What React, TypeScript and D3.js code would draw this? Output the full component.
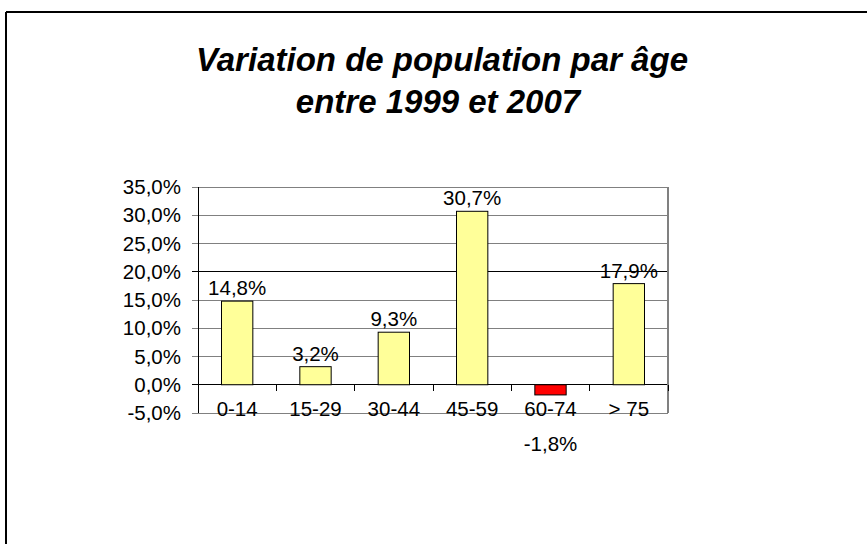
import React from "react";
import * as d3 from "d3";

const title1 = "Variation de population par âge";
const title2 = "entre 1999 et 2007";
const categories = ["0-14", "15-29", "30-44", "45-59", "60-74", "> 75"];
const values = [14.8, 3.2, 9.3, 30.7, -1.8, 17.9];
const valueLabels = ["14,8%", "3,2%", "9,3%", "30,7%", "-1,8%", "17,9%"];
const yTicks = [-5, 0, 5, 10, 15, 20, 25, 30, 35];

const W = 867;
const H = 544;
const FONT = "'Liberation Sans', Arial, sans-serif";

export default function App() {
  const left = 198, right = 668, top = 187, bottom = 413;
  const x = d3.scaleBand<string>().domain(categories).range([left, right]).paddingInner(0.6).paddingOuter(0.3);
  const y = d3.scaleLinear().domain([-5, 35]).range([bottom, top]);
  const step = x.step();
  const fmt = (v: number) => v.toFixed(1).replace(".", ",") + "%";

  return (
    <svg width={W} height={H} style={{ position: "absolute", left: 0, top: 0, background: "#fff" }} fontFamily={FONT}>
      {/* outer frame */}
      <line x1={6} y1={12} x2={W} y2={12} stroke="#000" strokeWidth={2} />
      <line x1={6} y1={12} x2={6} y2={H} stroke="#000" strokeWidth={2} />

      {/* title */}
      <text x={442} y={71} textAnchor="middle" fontSize={33} fontWeight="bold" fontStyle="italic">{title1}</text>
      <text x={438} y={113} textAnchor="middle" fontSize={33} fontWeight="bold" fontStyle="italic">{title2}</text>

      {/* gridlines */}
      {yTicks.map((t) => (
        <line key={"g" + t} x1={left - 6} x2={right} y1={y(t)} y2={y(t)}
          stroke={t === 0 || t === 20 ? "#000" : "#808080"} strokeWidth={1} shapeRendering="crispEdges" />
      ))}
      {/* plot right border */}
      <line x1={right} x2={right} y1={top} y2={bottom} stroke="#808080" strokeWidth={2} shapeRendering="crispEdges" />
      {/* y axis */}
      <line x1={left} x2={left} y1={top} y2={bottom} stroke="#000" strokeWidth={1} shapeRendering="crispEdges" />
      {/* x-axis ticks at zero */}
      {d3.range(categories.length + 1).map((i) => (
        <line key={"xt" + i} x1={left + i * step} x2={left + i * step} y1={y(0)} y2={y(0) + 6}
          stroke="#000" strokeWidth={1} shapeRendering="crispEdges" />
      ))}

      {/* y tick labels */}
      {yTicks.map((t) => (
        <text key={"yl" + t} x={181} y={y(t)} dy="0.35em" textAnchor="end" fontSize={20.5}>{fmt(t)}</text>
      ))}

      {/* bars */}
      {categories.map((c, i) => {
        const v = values[i];
        const y0 = y(Math.max(0, v));
        const y1 = y(Math.min(0, v));
        return (
          <rect key={"b" + c} x={x(c)} y={y0} width={x.bandwidth()} height={y1 - y0}
            fill={v < 0 ? "#FF0000" : "#FFFF99"} stroke="#000" strokeWidth={1} />
        );
      })}

      {/* x labels */}
      {categories.map((c) => (
        <text key={"xl" + c} x={(x(c) as number) + x.bandwidth() / 2} y={416} textAnchor="middle" fontSize={20.5}>{c}</text>
      ))}

      {/* value labels */}
      {categories.map((c, i) => {
        const v = values[i];
        const cx = (x(c) as number) + x.bandwidth() / 2;
        const yy = v >= 0 ? y(v) - 6 : 451;
        return (
          <text key={"vl" + c} x={cx} y={yy} textAnchor="middle" fontSize={20.5}>{valueLabels[i]}</text>
        );
      })}
    </svg>
  );
}
